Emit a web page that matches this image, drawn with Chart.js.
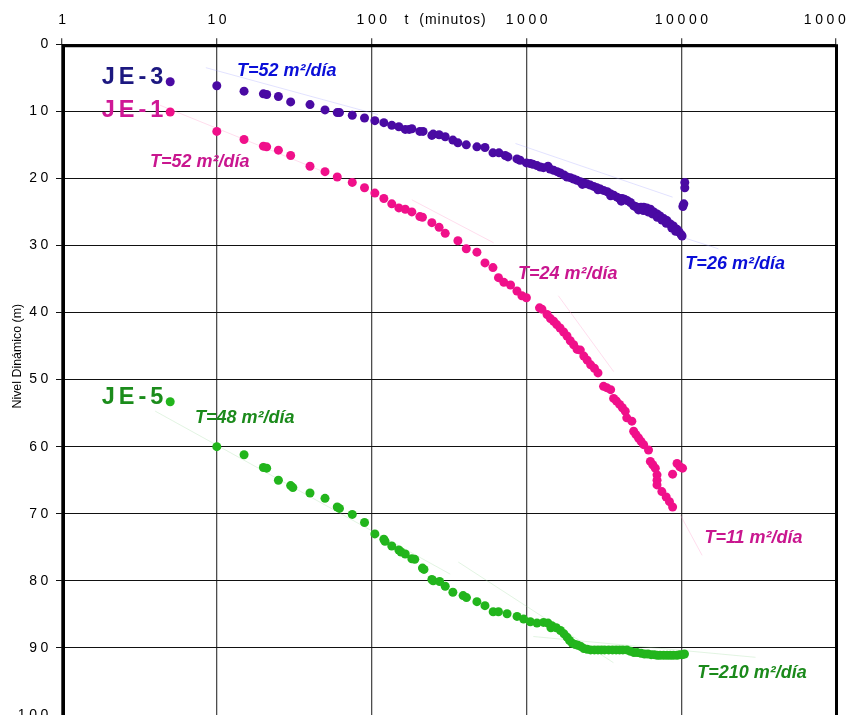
<!DOCTYPE html>
<html lang="es">
<head>
<meta charset="utf-8">
<title>Nivel dinámico en función del tiempo</title>
<script src="https://cdn.jsdelivr.net/npm/chart.js@4.4.1/dist/chart.umd.min.js"></script>
<style>
  html, body { margin: 0; padding: 0; background: #fff; overflow: hidden; }
  #marco { position: relative; width: 847px; height: 715px; }
</style>
</head>
<body>
<div id="marco"><canvas id="grafico"></canvas></div>
<script>
// Ticks of the axes
const tiempoTicks = [1, 10, 100, 1000, 10000, 100000];
const nivelTicks = [0, 10, 20, 30, 40, 50, 60, 70, 80, 90, 100];

// Well JE-3: time (min) and dynamic level (m)
const je3Tiempo = [5, 10, 15, 20, 21, 25, 30, 40, 50, 60, 62, 75, 90, 105, 120, 135, 150, 165, 175, 182,
  205, 215, 245, 250, 273, 299, 335, 361, 409, 479, 540, 608, 665, 730, 760, 869, 910, 1000, 1060, 1100,
  1170, 1230, 1290, 1380, 1420, 1500, 1580, 1656, 1750, 1830, 1923, 2020, 2120, 2230, 2350, 2450, 2588,
  2720, 2858, 3004, 3150, 3330, 3487, 3665, 3850, 4000, 4150, 4300, 4467, 4700, 4930, 5055, 5200, 5500,
  5727, 6000, 6330, 6650, 6990, 7300, 7710, 8100, 8510, 8900, 9400, 9700, 10000, 10130,
  2300, 2900, 3500, 4100, 5300, 5700, 6100, 6500, 7000, 7500, 8000, 8700, 9200,
  10250, 10400, 10550, 10550];
const je3Nivel = [5.6, 6.2, 7.0, 7.4, 7.5, 7.8, 8.6, 9.0, 9.8, 10.2, 10.2, 10.6, 11.0, 11.4, 11.7, 12.1, 12.3, 12.7, 12.7, 12.6,
  13.0, 13.0, 13.6, 13.4, 13.5, 13.8, 14.3, 14.7, 15.0, 15.3, 15.4, 16.2, 16.2, 16.6, 16.8, 17.1, 17.3, 17.7, 17.8, 17.9,
  18.1, 18.3, 18.4, 18.2, 18.6, 18.8, 19.0, 19.2, 19.5, 19.8, 19.9, 20.1, 20.3, 20.5, 20.7, 20.8, 21.0,
  21.2, 21.4, 21.6, 21.8, 22.0, 22.3, 22.5, 22.8, 23.0, 23.0, 23.1, 23.3, 23.6, 24.1, 24.2, 24.3, 24.3,
  24.3, 24.4, 24.6, 25.0, 25.3, 25.6, 26.0, 26.3, 26.8, 27.1, 27.6, 28.0, 28.4, 28.6,
  20.9, 21.7, 22.6, 23.4, 24.7, 24.8, 25.0, 25.3, 25.8, 26.2, 26.7, 27.4, 27.9,
  24.2, 23.8, 21.4, 20.6];

// Well JE-1
const je1Tiempo = [5, 10, 15, 20, 21, 25, 30, 40, 50, 60, 75, 90, 105, 120, 135, 150, 165, 182, 205, 213,
  245, 273, 299, 361, 409, 479, 540, 608, 660, 715, 790, 869, 935, 1000, 1215, 1260, 1360, 1430, 1500,
  1570, 1650, 1740, 1830, 1920, 2020, 2125, 2230, 2350, 2470, 2600, 2750, 2900, 3150, 3300, 3500, 3660,
  3820, 4000, 4170, 4350, 4450, 4800, 4930, 5100, 5300, 5500, 5720, 6150, 6320, 6550, 6800, 6980, 6980,
  6980, 7500, 8000, 8400, 8800,
  8800, 9400, 9800, 10200];
const je1Nivel = [10.1, 13.0, 14.2, 15.2, 15.3, 15.8, 16.6, 18.2, 19.0, 19.8, 20.6, 21.4, 22.2, 23.0, 23.8, 24.4, 24.6, 25.0, 25.7, 25.8,
  26.6, 27.3, 28.2, 29.3, 30.5, 31.0, 32.6, 33.3, 34.8, 35.5, 35.9, 36.8, 37.5, 37.8, 39.3, 39.5, 40.3, 40.9, 41.3,
  41.8, 42.3, 42.9, 43.5, 44.2, 44.8, 45.5, 45.6, 46.5, 47.1, 47.8, 48.3, 49.0, 51.0, 51.2, 51.5, 52.8,
  53.2, 53.7, 54.2, 54.7, 55.7, 56.2, 57.7, 58.2, 58.7, 59.2, 59.7, 60.5, 62.2, 62.7, 63.2, 64.2, 65.0,
  65.7, 66.7, 67.5, 68.2, 69.0,
  64.1, 62.5, 63.0, 63.2];

// Well JE-5
const je5Tiempo = [5, 10, 15, 20, 21, 25, 30, 31, 40, 50, 60, 62, 75, 90, 105, 120, 122, 135, 150, 155,
  165, 182, 190, 213, 218, 245, 250, 275, 299, 335, 390, 410, 479, 540, 610, 660, 750, 870, 960, 1060,
  1170, 1290, 1380, 1440, 1460, 1560, 1660, 1750, 1830, 1900, 1980, 2070, 2150, 2250, 2350, 2470, 2600,
  2750, 2900, 3050, 3200, 3400, 3600, 3800, 4000, 4200, 4460, 4700, 4950, 5200, 5500, 5800, 6100, 6400,
  6700, 7000, 7300, 7700, 8100, 8500, 8900, 9400, 9800, 10200, 10500];
const je5Nivel = [53.3, 60.0, 61.2, 63.1, 63.2, 65.0, 65.8, 66.1, 66.9, 67.7, 69.0, 69.2, 70.1, 71.3, 73.0, 73.8, 74.1, 74.8, 75.4, 75.7,
  76.0, 76.7, 76.8, 78.1, 78.3, 79.8, 80.0, 80.1, 80.8, 81.7, 82.2, 82.5, 83.1, 83.7, 84.6, 84.6, 84.9, 85.3, 85.7, 86.1,
  86.3, 86.2, 86.3, 87.0, 86.7, 87.0, 87.4, 87.9, 88.4, 88.9, 89.3, 89.5, 89.6, 89.8, 90.1, 90.2, 90.3,
  90.3, 90.3, 90.3, 90.3, 90.3, 90.3, 90.3, 90.3, 90.3, 90.3, 90.5, 90.7, 90.7, 90.8, 90.9, 90.9, 91.0,
  91.0, 91.1, 91.1, 91.1, 91.1, 91.1, 91.1, 91.1, 91.0, 91.0, 90.9];

// Straight-line fits (Jacob) used for each transmissivity
const ajusteJE3aTiempo = [8.5, 110],    ajusteJE3aNivel = [3.5, 10.5];
const ajusteJE3bTiempo = [850, 8800],   ajusteJE3bNivel = [14.8, 22.8];
const ajusteJE3cTiempo = [8500, 17400], ajusteJE3cNivel = [28.2, 30.5];
const ajusteJE1aTiempo = [4.3, 46.5],   ajusteJE1aNivel = [9.1, 18.8];
const ajusteJE1bTiempo = [182, 614],    ajusteJE1bNivel = [23.2, 29.6];
const ajusteJE1cTiempo = [1608, 3660],  ajusteJE1cNivel = [37.5, 48.8];
const ajusteJE1dTiempo = [9880, 13650], ajusteJE1dNivel = [70.2, 76.2];
const ajusteJE5aTiempo = [4.0, 322],    ajusteJE5aNivel = [54.7, 79.0];
const ajusteJE5bTiempo = [363, 3650],   ajusteJE5bNivel = [77.2, 92.2];
const ajusteJE5cTiempo = [1109, 30200], ajusteJE5cNivel = [88.3, 91.4];

// Well names and transmissivity labels, anchored in data units
const pozos = ['JE-3', 'JE-1', 'JE-5'];
const pozosAncla = [[1.806, 4.95], [1.806, 9.84], [1.806, 52.6]];
const transmisividades = ['T=52 m²/día', 'T=52 m²/día', 'T=24 m²/día', 'T=26 m²/día', 'T=11 m²/día', 'T=48 m²/día', 'T=210 m²/día'];
const transmisividadPozo = ['JE-3', 'JE-1', 'JE-1', 'JE-3', 'JE-1', 'JE-5', 'JE-5'];
const transmisividadAncla = [[13.5, 4.0], [3.7, 17.5], [883, 34.3], [10640, 32.7], [14120, 73.6], [7.24, 55.7], [12680, 93.8]];

const colorPunto = { 'JE-3': '#4a0aa3', 'JE-1': '#f0108a', 'JE-5': '#22b51c' };
const colorNombre = { 'JE-3': '#1c1880', 'JE-1': '#cf1896', 'JE-5': '#1b8c1b' };
const colorTexto = { 'JE-3': '#0a0fd8', 'JE-1': '#c9168f', 'JE-5': '#1b8a1b' };
const colorAjuste = { 'JE-3': 'rgba(150,150,255,0.28)', 'JE-1': 'rgba(255,150,200,0.32)', 'JE-5': 'rgba(150,215,150,0.28)' };

const pares = (ts, ns) => ts.map((t, i) => ({ x: t, y: ns[i] }));

function serie(nombre, ts, ns) {
  return {
    label: nombre, data: pares(ts, ns), showLine: false,
    pointRadius: 4.5, pointHoverRadius: 4.5, pointBorderWidth: 0,
    backgroundColor: colorPunto[nombre], borderColor: colorPunto[nombre]
  };
}
function ajuste(nombre, ts, ns) {
  return {
    label: 'ajuste ' + nombre, data: pares(ts, ns), showLine: true,
    pointRadius: 0, borderWidth: 1, borderColor: colorAjuste[nombre], fill: false
  };
}

const FUENTE = '"Liberation Sans", Arial, Helvetica, sans-serif';

const rotulos = {
  id: 'rotulos',
  beforeDraw(chart) {
    // axis numbers are drawn letter-spaced
    chart.ctx.letterSpacing = '3.6px';
  },
  beforeDatasetsDraw(chart) {
    const { ctx, chartArea: a } = chart;
    ctx.save();
    ctx.strokeStyle = '#000';
    ctx.lineWidth = 3;
    ctx.beginPath();
    ctx.moveTo(a.left + 1.5, a.bottom + 2);
    ctx.lineTo(a.left + 1.5, a.top + 1.5);
    ctx.lineTo(a.right + 0.5, a.top + 1.5);
    ctx.lineTo(a.right + 0.5, a.bottom + 2);
    ctx.stroke();
    ctx.restore();
  },
  afterDraw(chart) {
    const { ctx, chartArea: a } = chart;
    const xs = chart.scales.x, ys = chart.scales.y;
    ctx.save();
    ctx.textAlign = 'left';
    ctx.textBaseline = 'middle';

    // axis titles
    ctx.letterSpacing = '1px';
    ctx.fillStyle = '#000';
    ctx.font = '14px ' + FUENTE;
    ctx.fillText('t  (minutos)', xs.getPixelForValue(100) + 33, 20);

    ctx.letterSpacing = '0px';
    ctx.save();
    ctx.translate(18, a.top + 312);
    ctx.rotate(-Math.PI / 2);
    ctx.textAlign = 'center';
    ctx.font = '12.4px ' + FUENTE;
    ctx.fillText('Nivel Dinámico (m)', 0, 0);
    ctx.restore();

    // well names
    ctx.letterSpacing = '4px';
    ctx.font = 'bold 23.5px ' + FUENTE;
    pozos.forEach((p, i) => {
      ctx.fillStyle = colorNombre[p];
      ctx.fillText(p, xs.getPixelForValue(pozosAncla[i][0]), ys.getPixelForValue(pozosAncla[i][1]));
    });

    // transmissivity labels
    ctx.letterSpacing = '0px';
    ctx.font = 'italic bold 18px ' + FUENTE;
    transmisividades.forEach((txt, i) => {
      ctx.fillStyle = colorTexto[transmisividadPozo[i]];
      ctx.fillText(txt, xs.getPixelForValue(transmisividadAncla[i][0]), ys.getPixelForValue(transmisividadAncla[i][1]));
    });
    ctx.restore();
  }
};

new Chart(document.getElementById('grafico'), {
  type: 'scatter',
  data: {
    datasets: [
      serie('JE-3', je3Tiempo, je3Nivel),
      serie('JE-1', je1Tiempo, je1Nivel),
      serie('JE-5', je5Tiempo, je5Nivel),
      ajuste('JE-3', ajusteJE3aTiempo, ajusteJE3aNivel),
      ajuste('JE-3', ajusteJE3bTiempo, ajusteJE3bNivel),
      ajuste('JE-3', ajusteJE3cTiempo, ajusteJE3cNivel),
      ajuste('JE-1', ajusteJE1aTiempo, ajusteJE1aNivel),
      ajuste('JE-1', ajusteJE1bTiempo, ajusteJE1bNivel),
      ajuste('JE-1', ajusteJE1cTiempo, ajusteJE1cNivel),
      ajuste('JE-1', ajusteJE1dTiempo, ajusteJE1dNivel),
      ajuste('JE-5', ajusteJE5aTiempo, ajusteJE5aNivel),
      ajuste('JE-5', ajusteJE5bTiempo, ajusteJE5bNivel),
      ajuste('JE-5', ajusteJE5cTiempo, ajusteJE5cNivel)
    ]
  },
  options: {
    responsive: true,
    maintainAspectRatio: false,
    devicePixelRatio: 1,
    animation: false,
    layout: { autoPadding: false, padding: { left: 0, top: 0, right: 11, bottom: 0 } },
    plugins: { legend: { display: false }, tooltip: { enabled: false } },
    scales: {
      x: {
        type: 'logarithmic',
        position: 'top',
        min: 1,
        max: 100000,
        afterBuildTicks: (s) => { s.ticks = tiempoTicks.map(v => ({ value: v })); },
        afterFit: (s) => { s.height = 44.2; s.paddingLeft = 0; s.paddingRight = 0; },
        ticks: {
          callback: (v) => String(v),
          autoSkip: false, maxRotation: 0, minRotation: 0,
          padding: 10, labelOffset: 2, color: '#000',
          font: { family: FUENTE, size: 14 }
        },
        grid: { color: '#4d4d4d', lineWidth: 1.3, tickLength: 6, drawTicks: true },
        border: { display: false }
      },
      y: {
        type: 'linear',
        reverse: true,
        min: 0,
        max: 100,
        afterBuildTicks: (s) => { s.ticks = nivelTicks.map(v => ({ value: v })); },
        afterFit: (s) => { s.width = 62; s.paddingTop = 0; s.paddingBottom = 0; },
        ticks: {
          callback: (v) => String(v),
          padding: 4, color: '#000',
          font: { family: FUENTE, size: 14 }
        },
        grid: { color: '#111', lineWidth: 1, tickLength: 6, drawTicks: true },
        border: { display: false }
      }
    }
  },
  plugins: [rotulos]
});
</script>
</body>
</html>
